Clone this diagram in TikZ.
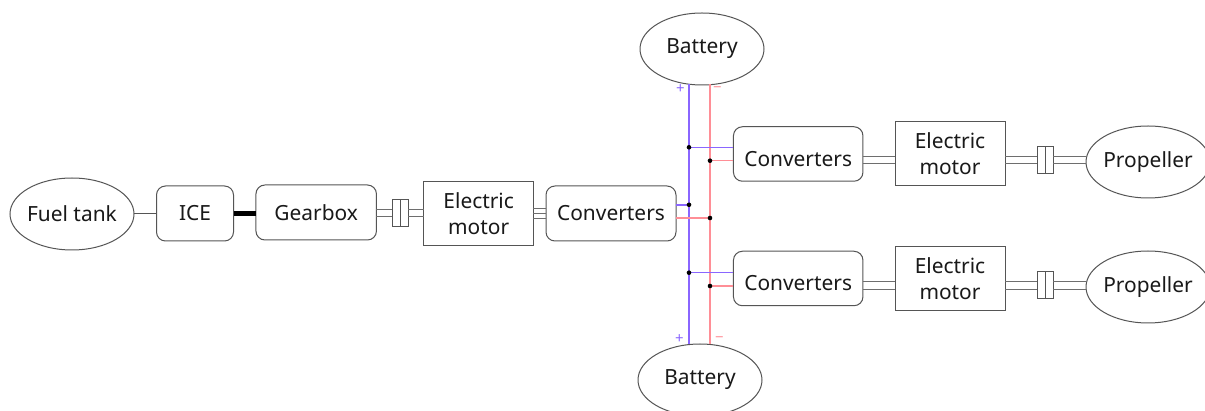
\documentclass[tikz,border=0pt]{standalone}
\usepackage{fontspec}
\setmainfont{Noto Sans}
\usetikzlibrary{shapes.geometric,calc}
\definecolor{edge}{HTML}{555555}
\definecolor{busplus}{HTML}{8A66FF}
\definecolor{busminus}{HTML}{FF8E96}
\tikzset{
  lbl/.style={font=\fontsize{20.9}{26}\selectfont,text=black!90,align=center,inner sep=0pt,outer sep=0pt},
  oval/.style={lbl,ellipse,draw=edge,line width=1pt,fill=white,minimum width=124pt},
  rbox/.style={lbl,rectangle,rounded corners=9pt,draw=edge,line width=1pt,fill=white},
  sbox/.style={lbl,rectangle,draw=edge,line width=1pt,fill=white},
  shaftline/.style={draw=edge!85,line width=1pt},
  coupler/.style={rectangle,draw=edge,line width=1pt,fill=white,inner sep=0pt,outer sep=0pt},
  thinline/.style={draw=edge,line width=1pt},
  thick shaft/.style={draw=black,line width=5.5pt},
  plus wire/.style={draw=busplus,line width=1.5pt},
  minus wire/.style={draw=busminus,line width=1.5pt},
  junction/.style={circle,fill=black,inner sep=0pt,minimum size=4.6pt,outer sep=0pt},
  sign/.style={font=\fontsize{15}{15}\selectfont,inner sep=0pt}
}
% a pair of parallel shaft lines between two points
\newcommand{\twinshaft}[3][3.6pt]{%
  \draw[shaftline] ([yshift=#1]#2) -- ([yshift=#1]#3);
  \draw[shaftline] ([yshift=-#1]#2) -- ([yshift=-#1]#3);
}
% text that does not widen its ellipse
\newcommand{\ovaltext}[1]{\makebox[0pt]{#1}}
\begin{document}
\begin{tikzpicture}[x=1pt,y=-1pt]
\useasboundingbox (0,0) rectangle (1205,411);
\fill[white] (0,0) rectangle (1205,411);
% nodes
\node[oval,minimum height=72pt] (fuel) at (72,214) {\ovaltext{Fuel tank}};
\node[rbox,minimum width=77pt,minimum height=55pt] (ice) at (195,213.5) {ICE};
\node[rbox,minimum width=120.5pt,minimum height=55pt] (gear) at (316.2,212.5) {Gearbox};
\node[sbox,minimum width=109.5pt,minimum height=64pt] (m0) at (478.7,214) {Electric\\motor};
\node[rbox,minimum width=130pt,minimum height=55pt] (c0) at (611,213.5) {Converters};
\node[rbox,minimum width=129.5pt,minimum height=54.5pt] (c1) at (798.2,154) {\rule{0pt}{24.5pt}Converters};
\node[rbox,minimum width=129.5pt,minimum height=54.5pt] (c2) at (798.2,278.5) {\rule{0pt}{24.5pt}Converters};
\node[sbox,minimum width=110pt,minimum height=64pt] (m1) at (950,154) {Electric\\motor};
\node[sbox,minimum width=110pt,minimum height=64pt] (m2) at (950,279) {Electric\\motor};
\node[oval,minimum height=72pt] (bt) at (702,49) {\ovaltext{Battery}};
\node[oval,minimum height=72pt] (bb) at (700,380) {\ovaltext{Battery}};
\node[oval,minimum height=72pt] (p1) at (1148,162) {\ovaltext{Propeller}};
\node[oval,minimum height=72pt] (p2) at (1148,287) {\ovaltext{Propeller}};
\node[coupler,minimum width=16pt,minimum height=27pt] (k0) at (400,213) {};
\node[coupler,minimum width=16pt,minimum height=27pt] (k1) at (1045,160) {};
\node[coupler,minimum width=16pt,minimum height=27pt] (k2) at (1045,285.5) {};
% mechanical connectors
\draw[thinline] (fuel.east) -- (fuel.east -| ice.west);
\draw[thick shaft] (ice.east) -- (ice.east -| gear.west);
\twinshaft{gear.east |- k0.west}{k0.west}
\twinshaft{k0.east}{k0.east -| m0.west}
\twinshaft{m1.east |- k1.west}{k1.west}
\twinshaft{k1.east}{k1.east -| p1.west}
\twinshaft{m2.east |- k2.west}{k2.west}
\twinshaft{k2.east}{k2.east -| p2.west}
\twinshaft{c1.east |- k1.west}{m1.west |- k1.west}
\twinshaft{c2.east |- k2.west}{m2.west |- k2.west}
\twinshaft[5.4pt]{m0.east |- c0.west}{c0.west}
\draw[shaftline] (m0.east |- c0.west) -- (c0.west);
\draw[draw=edge,line width=1pt] (k0.north) -- (k0.south);
\draw[draw=edge,line width=1pt] (k1.north) -- (k1.south);
\draw[draw=edge,line width=1pt] (k2.north) -- (k2.south);
% bus coordinates
\coordinate (ptop) at (689,84.5);
\coordinate (pbot) at (689,344.5);
\coordinate (mtop) at (710,84);
\coordinate (mbot) at (710,344);
\coordinate (jp0) at (689,204.8);
\coordinate (jm0) at (710,218);
\coordinate (jp1) at (689,147.3);
\coordinate (jm1) at (710,160.7);
\coordinate (jp2) at (689,272.7);
\coordinate (jm2) at (710,286);
% electric connectors
\draw[plus wire] (ptop) -- (pbot);
\draw[minus wire] (mtop) -- (mbot);
\draw[plus wire] (jp0) -- (jp0 -| c0.east);
\draw[minus wire] (jm0) -- (jm0 -| c0.east);
\draw[plus wire] (jp1) -- (jp1 -| c1.west);
\draw[minus wire] (jm1) -- (jm1 -| c1.west);
\draw[plus wire] (jp2) -- (jp2 -| c2.west);
\draw[minus wire] (jm2) -- (jm2 -| c2.west);
\foreach \j in {jp0,jm0,jp1,jm1,jp2,jm2} \node[junction] (n\j) at (\j) {};
% signs
\node[sign,text=busplus] (s1) at (680.5,89.5) {+};
\node[sign,text=busminus] (s2) at (717.5,89.5) {−};
\node[sign,text=busplus] (s3) at (679.5,339.5) {+};
\node[sign,text=busminus] (s4) at (719.5,339.5) {−};
\end{tikzpicture}
\end{document}
